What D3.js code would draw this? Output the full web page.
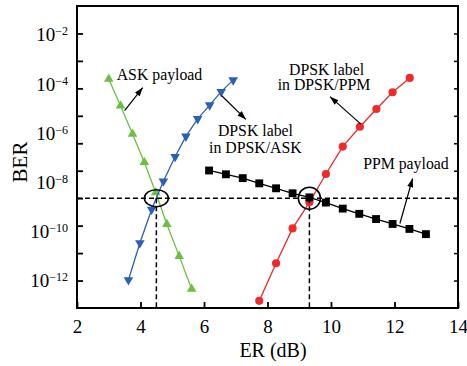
<!DOCTYPE html>
<html>
<head>
<meta charset="utf-8">
<script src="https://d3js.org/d3.v7.min.js"></script>
<style>
  body { margin: 0; background: #fff; }
  svg { display: block; }
  svg text { font-family: 'Liberation Serif', serif; fill: #000; }
  .ann { font-size: 15.8px; }
</style>
</head>
<body>
<script>
// axis ticks / labels
const xTicks = [2, 4, 6, 8, 10, 12, 14];
const yTicks = [1e-3, 1e-4, 1e-5, 1e-6, 1e-7, 1e-8, 1e-9, 1e-10, 1e-11, 1e-12];
const yLabels = [1e-2, 1e-4, 1e-6, 1e-8, 1e-10, 1e-12];

// ASK payload (green, up triangles)
const askEr  = [3.0, 3.37, 3.75, 4.12, 4.48, 4.83, 5.22, 5.61];
const askBer = [2.19e-5, 2.34e-6, 2.19e-7, 2.04e-8, 1.62e-9, 1.12e-10, 7.76e-12, 4.9e-13];

// DPSK label in DPSK/ASK (blue, down triangles)
const dpskAskEr  = [3.62, 3.98, 4.35, 4.72, 5.09, 5.43, 5.80, 6.18, 6.54, 6.92];
const dpskAskBer = [1.05e-12, 2.34e-11, 3.89e-10, 4.17e-9, 3.24e-8, 1.78e-7, 7.76e-7, 2.45e-6, 7.59e-6, 2.0e-5];

// DPSK label in DPSK/PPM (red, circles)
const dpskPpmEr  = [7.74, 8.27, 8.79, 9.32, 9.84, 10.37, 10.91, 11.43, 11.94, 12.48];
const dpskPpmBer = [1.82e-13, 4.27e-12, 7.94e-11, 7.08e-10, 7.59e-9, 7.59e-8, 3.98e-7, 1.78e-6, 7.24e-6, 2.4e-5];

// PPM payload (black, squares)
const ppmEr  = [6.16, 6.69, 7.22, 7.74, 8.27, 8.79, 9.32, 9.84, 10.37, 10.89, 11.42, 11.94, 12.47, 12.99];
const ppmBer = [1.02e-8, 7.41e-9, 5.37e-9, 3.47e-9, 2.29e-9, 1.51e-9, 1.07e-9, 6.92e-10, 4.17e-10, 2.69e-10, 1.74e-10, 1.15e-10, 7.59e-11, 4.9e-11];

// threshold and crossing points
const berThreshold = 1e-9;
const crossEr = [4.5, 9.32];

const series = [
  { name: 'ASK payload', er: askEr, ber: askBer, color: '#6fbe44', symbol: d3.symbolTriangle, size: 40, rotate: 0 },
  { name: 'DPSK label in DPSK/ASK', er: dpskAskEr, ber: dpskAskBer, color: '#2d5fb3', symbol: d3.symbolTriangle, size: 40, rotate: 180 },
  { name: 'DPSK label in DPSK/PPM', er: dpskPpmEr, ber: dpskPpmBer, color: '#ee2a2a', symbol: d3.symbolCircle, size: 52, rotate: 0 },
  { name: 'PPM payload', er: ppmEr, ber: ppmBer, color: '#000000', symbol: d3.symbolSquare, size: 62, rotate: 0 }
];

// text annotations, in data coordinates (one entry per printed line)
const notes = [
  { text: 'ASK payload', er: 3.25, ber: 2.1e-5, anchor: 'start' },
  { text: 'DPSK label', er: 7.62, ber: 1.8e-7, anchor: 'middle' },
  { text: 'in DPSK/ASK', er: 7.62, ber: 4.5e-8, anchor: 'middle' },
  { text: 'DPSK label', er: 9.86, ber: 3.1e-5, anchor: 'middle' },
  { text: 'in DPSK/PPM', er: 9.78, ber: 8.4e-6, anchor: 'middle' },
  { text: 'PPM payload', er: 12.36, ber: 1.12e-8, anchor: 'middle' }
];
const arrows = [
  { from: [3.50, 1.55e-6], to: [4.07, 1.07e-5] },
  { from: [6.55, 5.5e-6], to: [7.32, 7.4e-7] },
  { from: [10.94, 5.0e-7], to: [9.97, 5.0e-6] },
  { from: [12.17, 1.2e-10], to: [12.57, 5.2e-9] }
];

const W = 467, H = 366;
const margin = { top: 6, right: 9, bottom: 58, left: 77 };

const svg = d3.select('body').append('svg')
  .attr('width', W)
  .attr('height', H);

const x = d3.scaleLinear().domain([2, 14]).range([margin.left, W - margin.right]);
const y = d3.scaleLog().domain([1e-13, 1e-2]).range([H - margin.bottom, margin.top]);
// the printed exponent labels sit on their own (compressed) spacing
const yLab = d3.scaleLog().domain([1e-12, 1e-2]).range([280.5, 34.5]);

svg.append('defs').append('marker')
  .attr('id', 'head')
  .attr('viewBox', '0 -4 10 8')
  .attr('refX', 10)
  .attr('refY', 0)
  .attr('markerWidth', 9)
  .attr('markerHeight', 7)
  .attr('markerUnits', 'userSpaceOnUse')
  .attr('orient', 'auto')
  .append('path')
  .attr('d', 'M0,-3.5L10,0L0,3.5Z')
  .attr('fill', '#000');

// series lines and markers
const line = d3.line().x((d) => x(d[0])).y((d) => y(d[1]));

series.forEach(function(s) {
  const pts = s.er.map((e, i) => [e, s.ber[i]]);
  svg.append('path')
    .attr('d', line(pts))
    .attr('fill', 'none')
    .attr('stroke', s.color)
    .attr('stroke-width', 1.3);
  svg.append('g').selectAll('path')
    .data(pts)
    .enter().append('path')
    .attr('d', d3.symbol(s.symbol, s.size))
    .attr('transform', (d) => 'translate(' + x(d[0]) + ',' + y(d[1]) + ') rotate(' + s.rotate + ')')
    .attr('fill', s.color);
});

// dashed threshold guides
const guides = svg.append('g')
  .attr('stroke', '#000')
  .attr('stroke-width', 1.5)
  .attr('stroke-dasharray', '5,3')
  .attr('fill', 'none');
guides.append('line')
  .attr('x1', x(2)).attr('x2', x(14))
  .attr('y1', y(berThreshold)).attr('y2', y(berThreshold));
crossEr.forEach(function(e) {
  guides.append('line')
    .attr('x1', x(e)).attr('x2', x(e))
    .attr('y1', y(berThreshold)).attr('y2', y(1e-13));
});

// circles round the crossing points
svg.append('ellipse')
  .attr('cx', x(crossEr[0])).attr('cy', y(berThreshold))
  .attr('rx', 12).attr('ry', 8.5)
  .attr('fill', 'none').attr('stroke', '#000').attr('stroke-width', 1.5);
svg.append('circle')
  .attr('cx', x(crossEr[1])).attr('cy', y(berThreshold))
  .attr('r', 11)
  .attr('fill', 'none').attr('stroke', '#000').attr('stroke-width', 1.5);

// arrows
svg.append('g').selectAll('line')
  .data(arrows)
  .enter().append('line')
  .attr('x1', (d) => x(d.from[0])).attr('y1', (d) => y(d.from[1]))
  .attr('x2', (d) => x(d.to[0])).attr('y2', (d) => y(d.to[1]))
  .attr('stroke', '#000')
  .attr('stroke-width', 1.2)
  .attr('marker-end', 'url(#head)');

// annotation text
svg.append('g').selectAll('text')
  .data(notes)
  .enter().append('text')
  .attr('class', 'ann')
  .attr('text-anchor', (d) => d.anchor)
  .attr('x', (d) => x(d.er))
  .attr('y', (d) => y(d.ber))
  .text((d) => d.text);

// frame
svg.append('rect')
  .attr('x', margin.left).attr('y', margin.top)
  .attr('width', W - margin.left - margin.right)
  .attr('height', H - margin.top - margin.bottom)
  .attr('fill', 'none')
  .attr('stroke', '#000')
  .attr('stroke-width', 2);

// bottom axis
const xAxis = svg.append('g')
  .attr('transform', 'translate(0,' + (H - margin.bottom) + ')')
  .call(d3.axisBottom(x).tickValues(xTicks).tickSize(-6).tickPadding(11.5).tickFormat(d3.format('d')));
xAxis.select('.domain').remove();
xAxis.selectAll('line').attr('stroke-width', 1.8);
xAxis.selectAll('text')
  .style('font-family', "'Liberation Serif', serif")
  .style('font-size', '19px')
  .attr('fill', '#000');

// left ticks
const yAxis = svg.append('g')
  .attr('transform', 'translate(' + margin.left + ',0)')
  .call(d3.axisLeft(y).tickValues(yTicks).tickSize(-6).tickFormat(''));
yAxis.select('.domain').remove();
yAxis.selectAll('line').attr('stroke-width', 1.8);

// right ticks
const yAxisR = svg.append('g')
  .attr('transform', 'translate(' + (W - margin.right) + ',0)')
  .call(d3.axisRight(y).tickValues(yTicks).tickSize(-4).tickFormat(''));
yAxisR.select('.domain').remove();
yAxisR.selectAll('line').attr('stroke-width', 1.5);

// left exponent labels
const yLabAxis = svg.append('g')
  .attr('transform', 'translate(' + margin.left + ',0)')
  .call(d3.axisLeft(yLab).tickValues(yLabels).tickSize(0).tickPadding(9));
yLabAxis.select('.domain').remove();
yLabAxis.selectAll('.tick text')
  .style('font-family', "'Liberation Serif', serif")
  .style('font-size', '19px')
  .attr('fill', '#000')
  .attr('dy', '0.34em')
  .each(function(d) {
    const t = d3.select(this);
    const exp = Math.round(Math.log10(d));
    t.text(null);
    t.append('tspan').text('10');
    t.append('tspan')
      .attr('dy', -6)
      .style('font-size', '12px')
      .text('\u2212' + Math.abs(exp));
  });

// axis titles
svg.append('text')
  .attr('x', x(8) + 5.5)
  .attr('y', H - 9)
  .attr('text-anchor', 'middle')
  .style('font-size', '20px')
  .text('ER (dB)');

svg.append('text')
  .attr('transform', 'translate(27,162) rotate(-90)')
  .attr('text-anchor', 'middle')
  .style('font-size', '21px')
  .text('BER');
</script>
</body>
</html>
